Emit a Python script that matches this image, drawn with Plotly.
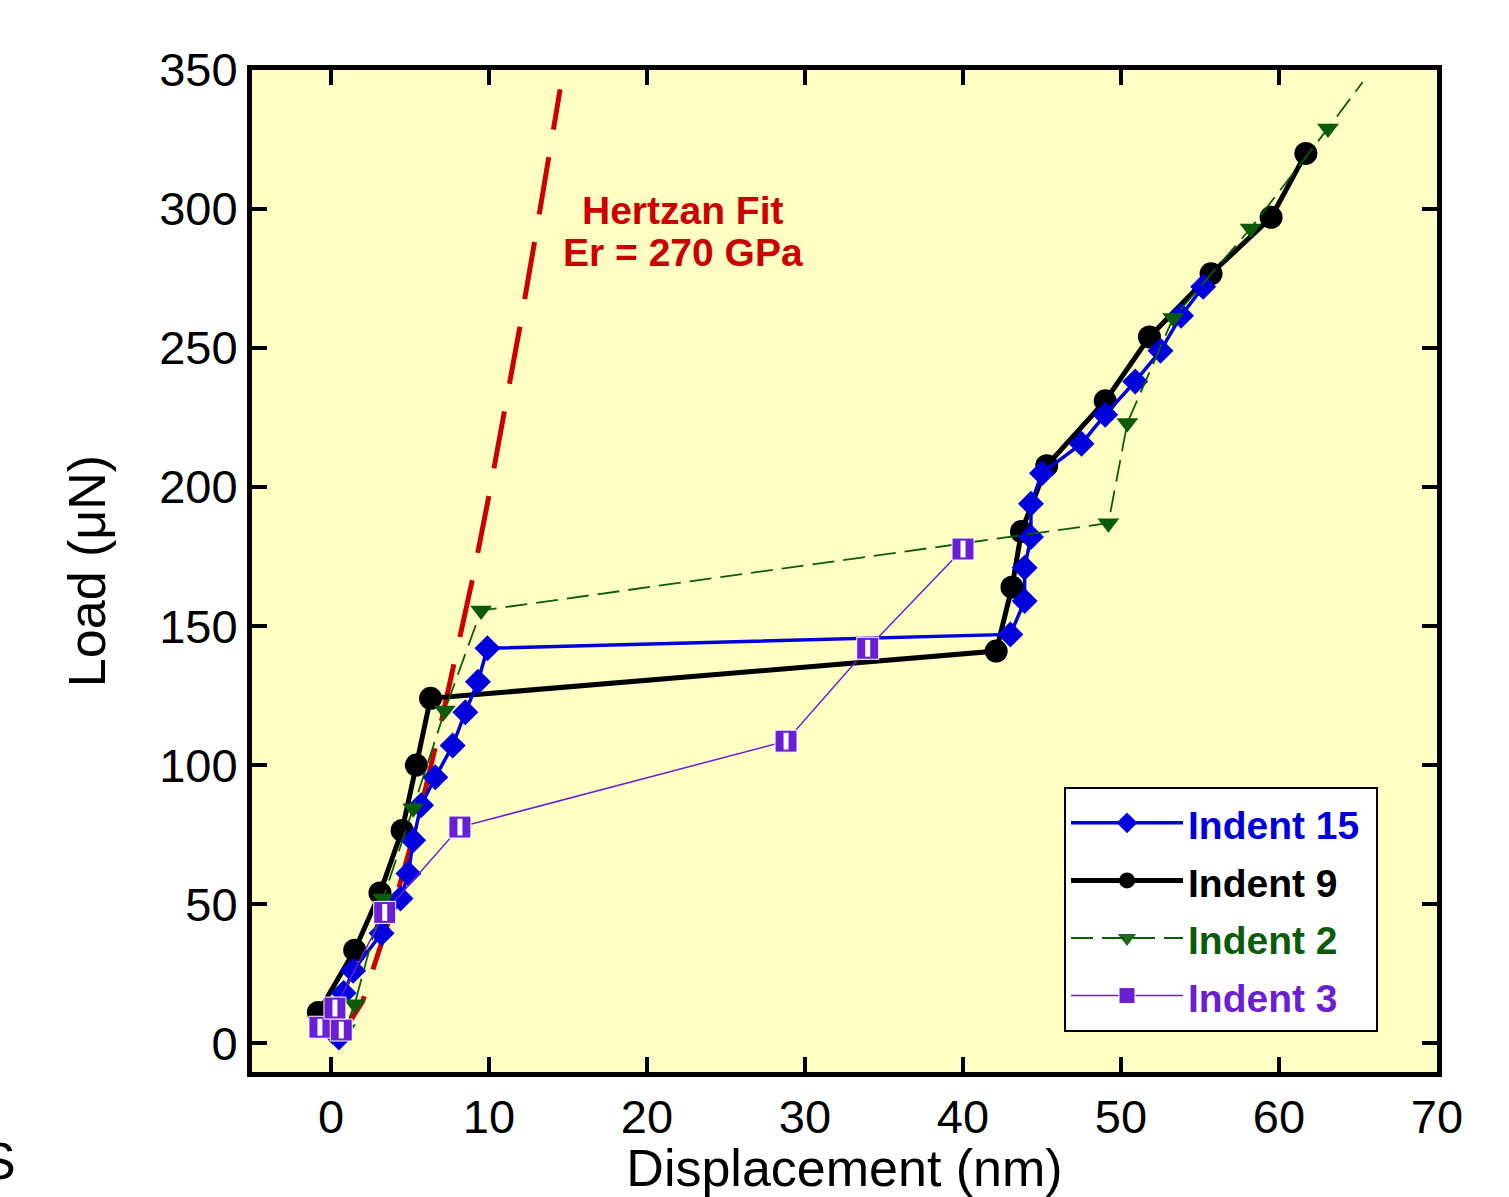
import plotly.graph_objects as go

# ---- data ----
hertz_x = [0, 1, 2, 3, 4, 5, 6, 7, 8, 9, 10, 11, 12, 13, 14, 14.5]
hertz_y = [0, 6, 15, 32, 50, 70, 92, 116, 141, 168, 197, 227, 259, 292, 327, 343]

indent15_x = [0.5, 0.8, 1.4, 3.2, 4.4, 4.9, 5.2, 5.7, 6.6, 7.7, 8.5, 9.3, 9.9,
              43.0, 43.9, 43.9, 44.3, 44.3, 45.0, 47.5, 49.0, 50.9, 52.5, 53.8, 55.2]
indent15_y = [2, 18, 26, 39.5, 52, 61, 73, 85.5, 95.6, 107, 119, 130, 142,
              147, 159, 171, 182, 194, 205, 215.6, 226, 238, 249, 261.6, 272]

indent9_x = [-0.8, 1.5, 3.1, 4.5, 5.4, 6.3, 42.1, 43.1, 43.7, 45.3, 49.0, 51.8, 55.7, 59.5, 61.7]
indent9_y = [11, 33.4, 54, 76.5, 100, 124, 141, 164, 184, 207.7, 231, 254, 276.7, 297, 320]

indent2_x = [0.9, 1.5, 3.3, 5.2, 7.2, 9.5, 49.2, 50.4, 53.3, 58.2, 63.1, 65.3]
indent2_y = [5, 14, 52, 84.5, 119.6, 155.6, 187, 223, 260.8, 293, 329, 345.7]
indent2_marker_opacity = [1, 1, 1, 1, 1, 1, 1, 1, 1, 1, 1, 0]

indent3_x = [-0.7, 0.65, 0.25, 3.4, 8.16, 28.8, 33.97, 40.0]
indent3_y = [5.7, 4.7, 12.6, 47, 77.7, 108.6, 142, 177.7]

x_ticks = [0, 10, 20, 30, 40, 50, 60, 70]
y_ticks = [0, 50, 100, 150, 200, 250, 300, 350]

BLUE = "#0000DD"
BLACK = "#000000"
GREEN = "#0A5C0A"
PURPLE = "#6A1FD6"
RED = "#CC0000"
FONT = "Liberation Sans, Arial, sans-serif"


def legend_name(label, color):
    return (f"<b><span style='color:{color};font-size:39px'>{label}\u00a0</span></b>")


fig = go.Figure()

fig.add_trace(go.Scatter(x=hertz_x, y=hertz_y, mode="lines", showlegend=False,
                         line=dict(color=RED, width=5, dash="58px,28px")))

fig.add_trace(go.Scatter(x=indent9_x, y=indent9_y, mode="lines+markers",
                         name=legend_name("Indent 9", BLACK),
                         legendrank=2,
                         line=dict(color=BLACK, width=5),
                         marker=dict(symbol="circle", size=23, color=BLACK)))

fig.add_trace(go.Scatter(x=indent15_x, y=indent15_y, mode="lines+markers",
                         name=legend_name("Indent 15", BLUE),
                         legendrank=1,
                         line=dict(color=BLUE, width=3.5),
                         marker=dict(symbol="diamond", size=20, color=BLUE)))

fig.add_trace(go.Scatter(x=indent2_x, y=indent2_y, mode="lines+markers",
                         name=legend_name("Indent 2", GREEN),
                         legendrank=3,
                         line=dict(color=GREEN, width=1.8, dash="22px,9px"),
                         marker=dict(symbol="triangle-down", size=19, color=GREEN,
                                     opacity=indent2_marker_opacity)))

fig.add_trace(go.Scatter(x=indent3_x, y=indent3_y, mode="lines+markers",
                         name=legend_name("Indent 3", PURPLE),
                         legendrank=4,
                         line=dict(color=PURPLE, width=1.5),
                         marker=dict(symbol="square", size=22, color=PURPLE,
                                     line=dict(color="white", width=1))))
fig.add_trace(go.Scatter(x=indent3_x, y=indent3_y, mode="markers", showlegend=False,
                         hoverinfo="skip",
                         marker=dict(symbol="line-ns", size=12,
                                     line=dict(color="white", width=5))))

fig.add_annotation(x=22.3, y=299.3, xref="x", yref="y", showarrow=False,
                   text="<b>Hertzan Fit</b>",
                   font=dict(family=FONT, size=39, color=RED))
fig.add_annotation(x=22.3, y=284.2, xref="x", yref="y", showarrow=False,
                   text="<b>Er = 270 GPa</b>",
                   font=dict(family=FONT, size=39, color=RED))

fig.add_annotation(x=(18 - 252) / 1185, y=(1072 - 1161) / 1002, xref="paper", yref="paper",
                   showarrow=False, text="S", xanchor="right", yanchor="middle",
                   font=dict(family=FONT, size=52, color="black"))

axis_common = dict(showline=True, linecolor="black", linewidth=5, mirror="ticks",
                   ticks="inside", ticklen=15, tickwidth=3.5, tickcolor="black",
                   showgrid=False, zeroline=False, automargin=False,
                   tickfont=dict(family=FONT, size=47, color="black"))

fig.update_xaxes(range=[-5, 70], tickvals=x_ticks, ticktext=[str(v) for v in x_ticks],
                 ticklabelstandoff=0,
                 title=dict(text="Displacement (nm)", standoff=6,
                            font=dict(family=FONT, size=52, color="black")),
                 **axis_common)
fig.update_yaxes(range=[-10.4, 350], tickvals=y_ticks, ticktext=[str(v) for v in y_ticks],
                 ticklabelstandoff=0,
                 title=dict(text="Load (μN)", standoff=38,
                            font=dict(family=FONT, size=52, color="black")),
                 **axis_common)

fig.update_layout(
    width=1509, height=1197, autosize=False,
    margin=dict(l=252, r=72, t=70, b=125),
    paper_bgcolor="white", plot_bgcolor="#FFFFC4",
    font=dict(family=FONT, color="black"),
    legend=dict(x=(1064 - 252) / 1185, y=(1072 - 787) / 1002, xanchor="left", yanchor="top",
                bgcolor="white", bordercolor="black", borderwidth=2,
                font=dict(family=FONT, size=42), itemwidth=112,
                tracegroupgap=0),
    showlegend=True,
)

fig.write_html("out.html", config={"displayModeBar": False},
               post_script="document.body.style.margin='0px';")
